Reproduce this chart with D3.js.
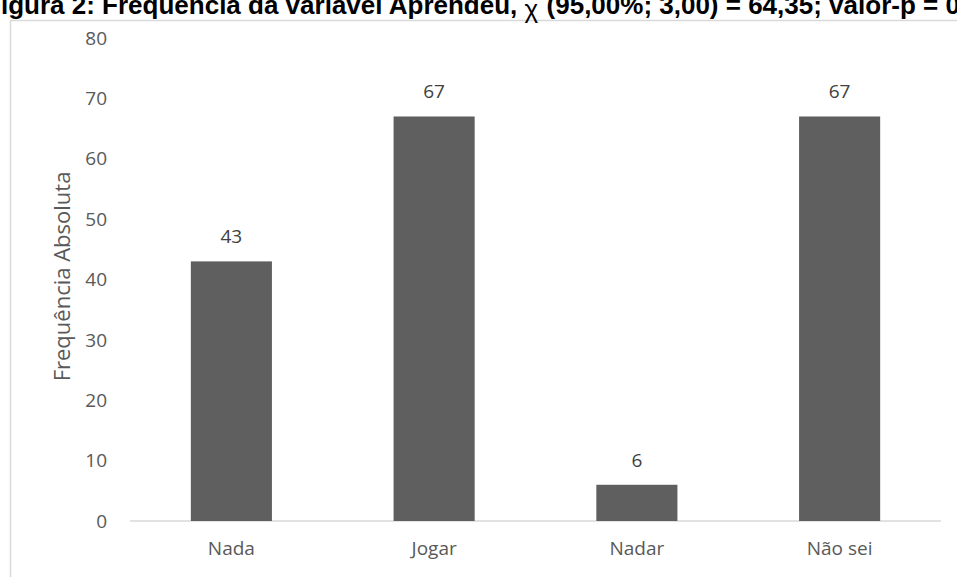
<!DOCTYPE html>
<html>
<head>
<meta charset="utf-8">
<script src="https://cdn.jsdelivr.net/npm/d3@7"></script>
<style>
  body { margin: 0; background: #fff; }
  svg { display: block; }
</style>
</head>
<body>
<svg id="chart" width="957" height="577"></svg>
<script>
'use strict';
let categories = ["Nada", "Jogar", "Nadar", "Não sei"];
let values = [43, 67, 6, 67];
let yTicks = [0, 10, 20, 30, 40, 50, 60, 70, 80];
let titleStart = "Figura 2: Frequência da variável Aprendeu, ";
let titleEnd = "(95,00%; 3,00) = 64,35; valor-p = 0,00";

let svg = d3.select("#chart"),
    margin = {top: 38, bottom: 56, left: 130, right: 16},
    width = +svg.attr("width"),
    height = +svg.attr("height");

let font = "'Open Sans', sans-serif";
let titleFont = "'Liberation Sans', Arial, sans-serif";

// chart frame (only top and left edges show inside the window)
svg.append("rect")
    .attr("x", 10.5)
    .attr("y", 20.5)
    .attr("width", width + 20)
    .attr("height", height + 20)
    .attr("fill", "none")
    .attr("stroke", "#d9d9d9")
    .attr("stroke-width", 1.5);

// title, cut by the top and sides of the picture
let title = svg.append("text")
    .attr("y", 14)
    .style("font-family", titleFont)
    .style("font-weight", "bold")
    .style("font-size", "26px")
    .attr("fill", "#000");
title.append("tspan").text(titleStart);
title.append("tspan").attr("dy", 4).style("font-weight", "normal").text("χ");
title.append("tspan").attr("dy", -20).style("font-size", "15px").text("2");
title.append("tspan").attr("dy", 16).text(titleEnd);

let fw = svg.append("text")
    .style("font-family", titleFont)
    .style("font-weight", "bold")
    .style("font-size", "26px")
    .text("F");
let fWidth = fw.node().getComputedTextLength();
fw.remove();
title.attr("x", -fWidth + 1);

let x = d3.scaleBand()
    .domain(categories)
    .range([margin.left, width - margin.right])
    .paddingInner(0.6)
    .paddingOuter(0.3);

let y = d3.scaleLinear()
    .domain([0, 80])
    .range([height - margin.bottom, margin.top]);

// baseline
svg.append("line")
    .attr("x1", margin.left)
    .attr("x2", width - margin.right)
    .attr("y1", y(0))
    .attr("y2", y(0))
    .attr("stroke", "#d9d9d9")
    .attr("stroke-width", 1.5);

// y tick labels
svg.append("g")
    .selectAll("text")
    .data(yTicks)
    .enter()
    .append("text")
    .attr("x", 107)
    .attr("y", d => y(d))
    .attr("dy", "0.35em")
    .attr("text-anchor", "end")
    .style("font-family", font)
    .style("font-size", "19px")
    .attr("fill", "#595959")
    .text(d => d);

// x category labels
svg.append("g")
    .selectAll("text")
    .data(categories)
    .enter()
    .append("text")
    .attr("x", d => x(d) + x.bandwidth() / 2)
    .attr("y", y(0) + 34)
    .attr("text-anchor", "middle")
    .style("font-family", font)
    .style("font-size", "19px")
    .attr("fill", "#595959")
    .text(d => d);

// y axis title
svg.append("text")
    .attr("transform", "translate(70," + y(40.5) + ") rotate(-90)")
    .attr("text-anchor", "middle")
    .style("font-family", font)
    .style("font-size", "22px")
    .attr("fill", "#595959")
    .text("Frequência Absoluta");

let bars = svg.append("g")
    .selectAll("g")
    .data(categories.map((c, i) => ({cat: c, val: values[i]})))
    .enter()
    .append("g");

bars.append("rect")
    .attr("x", d => x(d.cat))
    .attr("y", d => y(d.val))
    .attr("width", x.bandwidth())
    .attr("height", d => y(0) - y(d.val))
    .attr("fill", "#5f5f5f");

bars.append("text")
    .attr("x", d => x(d.cat) + x.bandwidth() / 2)
    .attr("y", d => y(d.val) - 18)
    .attr("text-anchor", "middle")
    .style("font-family", font)
    .style("font-size", "19px")
    .attr("fill", "#404040")
    .text(d => d.val);
</script>
</body>
</html>
